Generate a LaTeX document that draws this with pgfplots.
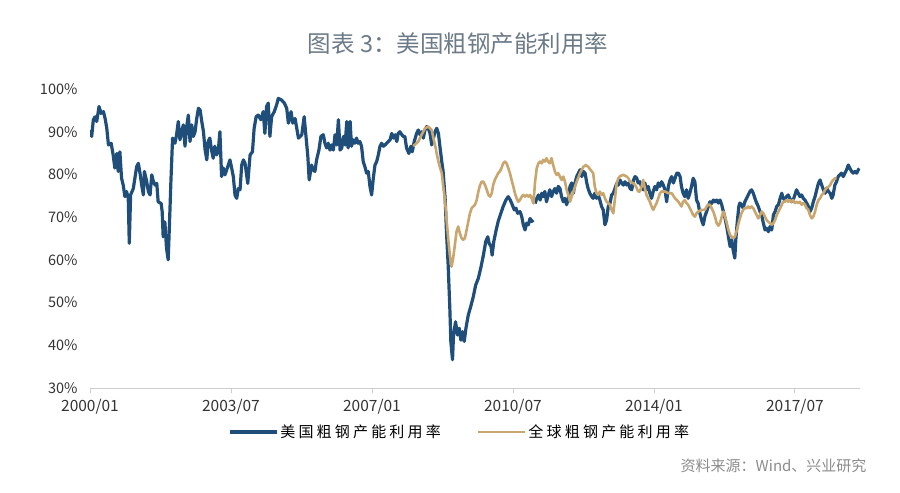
\documentclass[border=0pt]{standalone}
\usepackage{fontspec}
\setmainfont{Noto Sans CJK SC}
\usepackage{pgfplots}
\pgfplotsset{compat=1.18}
\definecolor{usblue}{RGB}{31,78,122}
\definecolor{gold}{RGB}{201,166,110}
\definecolor{titlegray}{RGB}{108,122,136}
\definecolor{axgray}{RGB}{205,205,205}
\definecolor{srcgray}{RGB}{140,140,140}
\newcommand{\ls}{\hspace{3.2bp}}
\begin{document}
\begin{tikzpicture}
\path[use as bounding box] (0,0) rectangle (900bp,493bp);
\node[text=titlegray, font=\fontsize{23.5bp}{27bp}\selectfont] at (458bp,449bp) {图表 3：美国粗钢产能利用率};
\node[anchor=east, text=srcgray, font=\fontsize{15bp}{18bp}\selectfont] at (870bp,27bp) {资料来源：Wind、兴业研究};
\begin{axis}[at={(90bp,105bp)}, anchor=south west, scale only axis, width=770bp, height=299bp,
  xmin=0, xmax=229.4, ymin=30, ymax=100,
  axis x line*=bottom, axis y line*=left,
  x axis line style={axgray, line width=0.8bp},
  y axis line style={draw=none},
  ytick style={draw=none},
  xtick style={axgray, line width=0.8bp},
  xtick align=outside, major tick length=5bp,
  xtick={0,42,84,126,168,210},
  xticklabels={2000/01,2003/07,2007/01,2010/07,2014/01,2017/07},
  ytick={30,40,...,100},
  yticklabel={\pgfmathprintnumber{\tick}\%},
  /pgf/number format/assume math mode=true,
  ticklabel style={text=black!80},
  yticklabel style={font=\fontsize{14.5bp}{17bp}\selectfont, xshift=-9bp},
  xticklabel style={font=\fontsize{15.5bp}{18bp}\selectfont, yshift=-3bp},
  unbounded coords=jump,
  legend columns=2,
  legend style={at={(0.48,-0.147)}, anchor=center, draw=none, fill=none,
    font=\fontsize{15bp}{18bp}\selectfont,
    /tikz/every even column/.append style={column sep=34bp}},
  legend image code/.code={\draw[#1] (0bp,0bp) -- (47bp,0bp);},
]
\addplot[usblue, line width=3.2bp, line join=round] coordinates {
(0.0,90.4)(0.5,88.9)(1.0,92.8)(1.5,93.5)(2.0,92.4)(2.7,95.9)(3.3,94.3)(4.0,94.7)(4.5,93.1)(5.0,90.8)
(5.5,86.9)(6.3,87.3)(6.9,84.6)(7.4,81.5)(8.0,84.9)(8.4,80.7)(8.9,85.3)(9.4,79.1)(9.9,77.5)(10.4,74.8)
(10.9,76.0)(11.4,74.4)(11.7,63.9)(12.1,75.2)(12.9,76.7)(13.9,81.8)(14.4,82.6)(14.9,80.3)(15.4,77.5)(15.9,75.2)
(16.2,80.7)(16.9,78.3)(17.4,76.0)(17.9,75.2)(18.4,79.9)(18.9,78.3)(19.4,77.5)(19.9,77.9)(20.3,73.6)(21.2,73.2)
(21.5,71.3)(21.8,65.4)(22.3,68.9)(22.8,62.7)(23.3,60.0)(23.8,71.3)(24.1,78.3)(24.6,88.5)(25.3,87.3)(25.8,89.3)
(26.3,92.4)(26.8,88.1)(27.3,90.0)(27.8,91.6)(28.3,86.6)(28.8,91.2)(29.3,93.9)(29.8,87.7)(30.3,91.6)(30.8,88.9)
(31.3,90.0)(31.8,93.1)(32.3,95.5)(32.8,95.1)(33.3,92.4)(33.8,90.0)(34.3,85.7)(34.8,83.4)(35.2,87.7)(35.7,88.5)
(36.3,85.3)(36.7,83.8)(37.2,86.6)(37.7,84.6)(38.2,85.3)(38.7,90.0)(39.2,79.5)(39.7,81.5)(40.2,79.9)(41.2,82.2)
(41.7,83.4)(42.2,81.5)(42.7,79.5)(43.2,75.2)(43.7,74.4)(44.2,76.7)(44.7,76.4)(45.2,82.2)(45.7,83.4)(46.2,82.6)
(47.0,77.9)(47.7,84.6)(48.4,85.3)(48.9,90.8)(49.5,93.5)(50.1,93.9)(50.9,92.8)(51.6,94.7)(52.1,89.6)(52.6,95.9)
(53.1,96.7)(53.6,88.9)(54.1,93.5)(54.9,94.7)(55.6,96.3)(56.1,97.8)(57.1,97.4)(57.9,96.7)(58.6,95.5)(59.1,92.0)
(59.9,94.7)(60.4,92.0)(61.1,93.1)(61.6,90.8)(62.1,88.5)(63.1,89.3)(63.8,93.5)(64.3,89.3)(64.9,84.2)(65.3,78.7)
(66.0,82.2)(66.5,81.1)(67.0,80.7)(67.5,83.4)(68.2,85.7)(68.8,88.9)(69.5,89.3)(70.0,87.3)(70.5,86.2)(71.0,87.3)
(71.5,85.7)(72.0,86.9)(72.5,85.7)(73.0,89.3)(73.5,86.9)(74.0,92.8)(74.5,85.7)(75.0,86.2)(75.5,88.9)(76.0,86.9)
(76.5,92.4)(76.9,86.2)(77.5,92.4)(77.9,86.6)(78.4,88.1)(78.9,87.3)(79.4,88.5)(79.9,87.3)(80.4,87.7)(80.9,86.6)
(81.4,83.0)(81.9,81.8)(82.4,80.3)(82.9,80.7)(83.4,77.2)(83.9,75.2)(84.4,79.1)(84.9,82.2)(85.4,83.0)(85.9,84.6)
(86.4,86.6)(86.9,87.3)(87.4,86.6)(87.9,86.9)(88.4,87.3)(88.9,87.7)(89.4,88.1)(89.9,89.6)(90.4,88.5)(90.9,89.3)
(91.4,87.7)(91.8,89.6)(92.3,90.0)(92.9,89.3)(93.3,88.9)(93.8,88.9)(94.3,86.2)(95.0,84.9)(95.6,86.6)(96.0,85.3)
(96.6,87.7)(97.3,89.6)(97.8,90.4)(98.3,89.3)(98.8,90.0)(99.3,88.5)(99.8,90.4)(100.3,91.2)(100.8,90.8)(101.3,89.6)
(101.8,86.9)(102.3,88.5)(102.8,90.0)(103.3,90.8)(103.8,89.6)(104.3,86.2)(104.8,83.0)(105.2,80.7)(105.8,74.4)(106.2,66.6)
(106.7,58.8)(107.2,48.7)(107.5,40.9)(108.0,36.6)(108.3,42.4)(108.9,45.5)(109.5,42.4)(110.0,44.0)(110.5,41.2)(111.0,43.2)
(111.5,40.9)(112.0,44.0)(112.7,47.1)(113.4,49.0)(114.2,51.4)(114.9,54.1)(115.7,55.7)(116.5,58.4)(117.2,61.1)(117.9,64.3)
(118.5,65.4)(118.9,63.9)(119.5,63.1)(119.8,61.1)(120.3,64.3)(120.9,66.6)(121.6,69.0)(122.4,70.9)(123.1,72.5)(123.9,74.0)
(124.6,74.8)(125.2,74.0)(125.8,72.9)(126.4,71.7)(126.9,72.1)(127.4,70.9)(128.1,71.3)(128.6,70.2)(129.1,68.2)(129.6,67.0)
(130.1,68.6)(130.6,68.2)(131.1,69.7)(131.6,69.0)(132.1,69.3)(132.35,nan)
(132.6,73.2)(133.1,74.4)(133.6,75.2)(134.1,74.0)(134.6,75.6)(135.0,74.8)(135.5,76.0)(136.0,73.6)(136.5,75.2)(137.0,76.4)
(137.5,74.8)(138.0,76.0)(138.5,76.7)(139.0,75.6)(139.5,77.2)(140.0,76.7)(140.5,74.8)(141.0,73.6)(141.5,74.4)(142.0,72.9)
(142.5,74.4)(143.0,77.2)(143.5,78.0)(144.0,75.6)(144.5,78.0)(145.0,79.5)(145.5,80.3)(146.0,81.1)(146.5,79.5)(147.0,80.7)
(147.5,80.3)(148.0,78.0)(148.4,76.7)(148.9,75.6)(149.5,74.8)(149.9,74.4)(150.4,75.6)(150.9,74.4)(151.4,75.2)(151.9,74.0)
(152.4,72.5)(152.9,71.7)(153.4,68.2)(153.9,69.3)(154.4,72.5)(154.9,73.2)(155.4,75.2)(155.9,75.6)(156.4,76.7)(156.9,77.9)
(157.4,77.5)(157.9,78.7)(158.4,78.0)(158.9,77.5)(159.4,78.3)(159.9,77.5)(160.4,78.0)(160.9,76.7)(161.4,76.4)(161.9,78.7)
(162.4,79.5)(162.9,79.1)(163.3,78.0)(163.8,78.3)(164.3,77.2)(164.8,76.4)(165.3,78.0)(165.8,76.4)(166.3,77.2)(166.8,75.6)
(167.3,74.4)(167.8,76.0)(168.3,77.2)(168.8,76.4)(169.3,78.0)(169.8,77.2)(170.3,78.3)(170.8,77.5)(171.3,76.4)(171.8,73.6)
(172.3,77.2)(172.8,78.7)(173.3,79.5)(173.8,78.0)(174.3,79.1)(174.8,80.3)(175.3,80.3)(175.8,79.5)(176.2,77.2)(176.7,75.6)
(177.2,74.8)(177.7,76.4)(178.2,74.4)(178.7,75.6)(179.2,77.2)(179.7,79.1)(180.2,78.3)(180.7,74.0)(181.2,73.2)(181.7,70.9)
(182.2,69.3)(182.7,68.2)(183.2,70.2)(183.7,71.3)(184.2,72.5)(184.7,73.6)(185.2,73.2)(185.7,74.0)(186.2,73.6)(186.7,74.0)
(187.2,73.3)(187.7,74.0)(188.2,72.9)(188.7,71.3)(189.2,69.7)(189.7,67.8)(190.2,65.4)(190.7,63.1)(191.2,64.7)(191.6,62.3)
(192.1,60.4)(192.4,64.7)(192.8,68.6)(193.3,72.5)(193.6,73.3)(194.1,72.9)(194.6,72.1)(195.1,73.6)(195.6,74.4)(196.1,75.2)
(196.6,76.0)(197.1,76.4)(197.6,75.6)(198.1,74.4)(198.6,73.3)(199.1,72.5)(199.6,71.3)(200.1,70.5)(200.6,68.6)(201.1,67.0)
(201.6,67.4)(202.1,66.6)(202.6,67.8)(203.1,67.0)(203.6,70.5)(204.1,71.3)(204.6,72.5)(205.1,72.9)(205.6,74.4)(206.1,75.6)
(206.5,74.4)(207.0,74.0)(207.5,74.8)(208.0,75.2)(208.5,74.4)(209.0,73.6)(209.5,74.0)(210.0,75.2)(210.5,76.4)(211.0,75.6)
(211.5,74.8)(212.0,75.2)(212.5,74.4)(213.0,74.0)(213.5,73.3)(214.0,72.5)(214.5,71.3)(215.0,72.1)(215.5,73.6)(216.0,74.8)
(216.5,76.4)(217.0,77.9)(217.5,78.7)(218.0,77.5)(218.5,76.4)(219.0,75.6)(219.5,76.8)(220.0,76.0)(220.5,75.6)(221.0,74.4)
(221.4,75.2)(221.9,77.5)(222.4,78.3)(222.9,79.5)(223.4,79.9)(223.9,80.3)(224.4,79.5)(224.9,80.3)(225.4,81.1)(225.9,82.2)
(226.4,81.4)(226.9,80.7)(227.4,80.3)(227.9,80.7)(228.4,80.3)(228.9,81.1)(229.2,81.4)
};
\addlegendentry{美\ls 国\ls 粗\ls 钢\ls 产\ls 能\ls 利\ls 用\ls 率}
\addplot[gold, line width=2.6bp, line join=round] coordinates {
(96.3,86.6)(97.8,87.7)(98.8,89.3)(99.8,90.8)(100.8,91.2)(101.8,90.4)(102.3,88.5)(102.8,86.9)(103.3,84.9)(103.8,83.0)
(104.3,81.5)(104.8,80.3)(105.2,77.5)(105.8,73.6)(106.2,69.7)(106.7,65.1)(107.2,61.1)(107.7,58.4)(108.2,60.4)(108.7,63.5)
(109.2,66.6)(109.7,67.8)(110.2,66.2)(110.7,65.1)(111.2,64.7)(111.7,65.1)(112.2,67.0)(112.7,69.0)(113.2,70.9)(113.7,72.1)
(114.2,72.5)(114.7,72.9)(115.2,74.0)(115.7,76.0)(116.2,77.5)(116.7,78.3)(117.2,78.3)(117.7,77.5)(118.2,76.4)(118.7,75.2)
(119.2,74.8)(119.7,75.6)(120.1,77.5)(120.6,78.7)(121.1,79.5)(121.6,80.3)(122.1,80.7)(122.6,81.5)(123.1,82.6)(123.6,83.0)
(124.1,82.6)(124.6,81.5)(125.1,80.3)(125.6,78.7)(126.1,77.2)(126.6,75.6)(127.1,74.4)(127.6,73.6)(128.1,74.0)(128.6,74.8)
(129.1,75.2)(129.6,74.8)(130.1,75.2)(130.6,74.8)(131.1,75.2)(131.6,74.4)(132.1,73.2)(132.6,78.3)(133.1,81.5)(133.6,82.6)
(134.1,83.0)(134.6,82.6)(135.0,83.4)(135.5,83.0)(136.0,83.8)(136.5,83.0)(137.0,82.6)(137.5,83.8)(138.0,82.2)(138.5,80.7)
(139.0,79.9)(139.5,80.3)(140.0,79.5)(140.5,78.7)(141.0,79.5)(141.5,78.3)(142.0,76.4)(142.5,75.2)(143.0,73.6)(145.0,78.3)
(146.0,80.3)(147.0,81.8)(147.7,82.2)(148.4,81.8)(149.5,80.7)(149.9,80.3)(150.4,77.1)(150.9,75.6)(151.4,75.2)(151.9,76.0)
(152.4,75.2)(152.9,75.6)(153.4,74.4)(153.9,73.6)(154.4,73.3)(154.9,72.9)(155.4,71.7)(155.9,70.9)(156.4,74.4)(156.9,77.9)
(157.4,79.1)(157.9,79.6)(158.9,79.9)(159.9,79.5)(160.4,79.1)(160.9,78.3)(161.9,77.9)(162.4,77.5)(162.9,76.8)(163.3,76.0)
(163.8,76.0)(164.3,77.1)(164.8,78.7)(165.3,76.8)(165.8,75.2)(166.3,74.4)(166.8,73.6)(167.3,72.5)(167.8,71.7)(168.3,72.5)
(168.8,73.3)(169.3,74.4)(169.8,75.6)(170.3,76.0)(171.3,76.0)(172.3,75.6)(173.3,75.6)(174.3,74.4)(175.3,73.6)(176.2,72.5)
(176.7,73.6)(177.2,74.0)(177.7,73.3)(178.2,72.9)(178.7,72.1)(179.2,71.3)(179.7,70.5)(180.2,70.1)(180.7,70.9)(181.2,71.3)
(182.2,71.7)(183.2,71.7)(183.7,72.5)(184.2,72.9)(184.7,72.9)(185.2,72.1)(185.7,71.3)(186.2,70.1)(186.7,68.6)(187.2,68.0)
(187.7,68.6)(188.2,70.1)(188.7,71.3)(189.2,70.1)(189.7,68.6)(190.2,67.0)(190.7,65.8)(191.2,65.4)(191.6,65.1)(192.1,65.4)
(192.6,66.6)(193.1,68.2)(193.6,69.7)(194.1,70.9)(194.6,71.7)(195.1,72.1)(195.6,72.1)(196.1,72.5)(196.6,72.1)(197.1,72.5)
(197.6,72.1)(198.1,71.3)(198.6,70.5)(199.1,69.7)(199.6,70.5)(200.1,71.3)(200.6,70.9)(201.1,70.1)(201.6,69.3)(202.1,68.9)
(202.6,68.6)(203.1,68.2)(203.6,68.6)(204.1,69.3)(204.6,70.5)(205.1,71.3)(205.6,72.1)(206.1,72.9)(206.5,73.6)(207.0,73.6)
(207.5,74.0)(208.0,73.6)(208.5,74.0)(209.0,73.6)(209.5,74.0)(210.0,73.3)(210.5,73.6)(211.0,73.3)(211.5,73.6)(212.0,72.9)
(212.5,73.3)(213.0,72.9)(213.5,72.1)(214.0,71.7)(214.5,70.5)(215.0,69.7)(215.5,70.1)(216.0,71.3)(216.5,72.9)(217.0,74.0)
(217.5,74.4)(218.0,75.2)(218.5,75.6)(219.0,76.4)(219.5,76.8)(220.0,77.1)(220.5,77.5)(221.0,78.3)(221.4,78.7)(221.9,79.1)
(222.4,79.1)
};
\addlegendentry{全\ls 球\ls 粗\ls 钢\ls 产\ls 能\ls 利\ls 用\ls 率}
\end{axis}
\end{tikzpicture}
\end{document}
